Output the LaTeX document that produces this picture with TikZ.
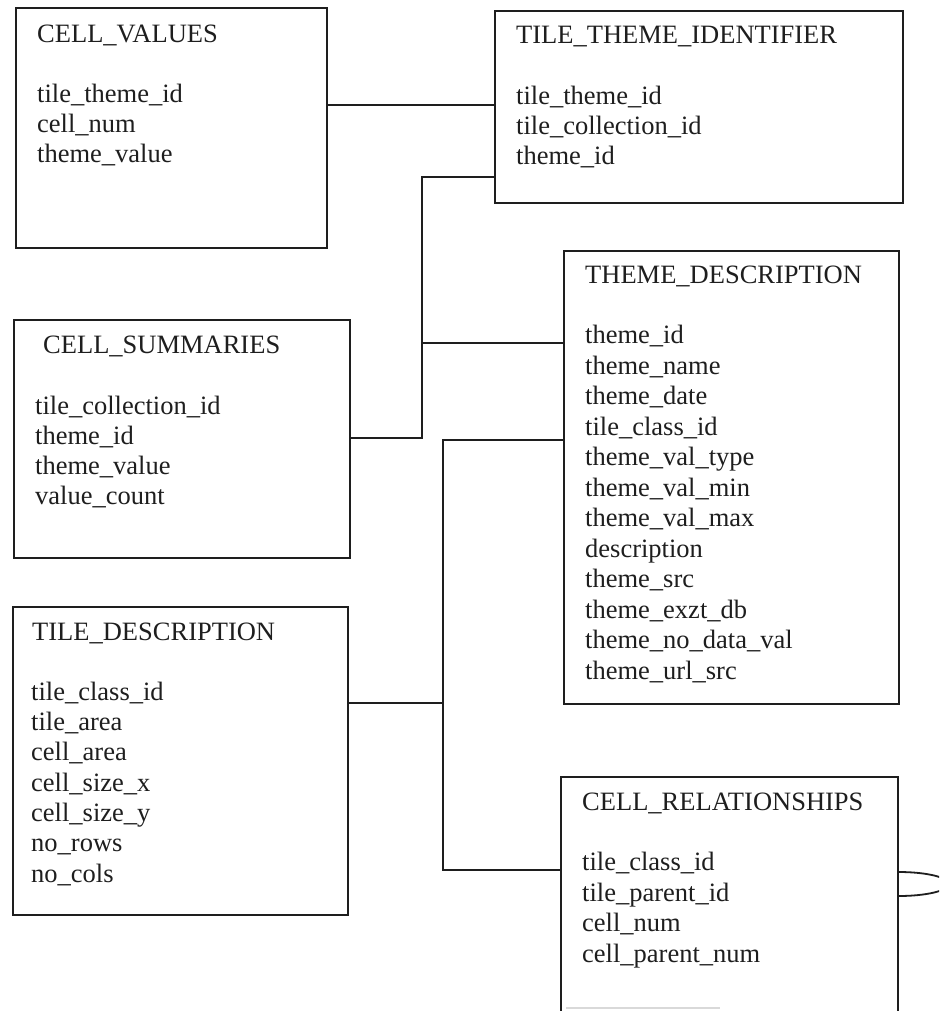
\documentclass[tikz,border=0pt]{standalone}
\usepackage{fontspec}
\setmainfont{Liberation Serif}
\definecolor{ink}{HTML}{1E1E1E}
\begin{document}
\begin{tikzpicture}[x=1pt,y=-1pt,
  tbl/.style={draw=ink, line width=1.8pt, rectangle, inner sep=0pt, anchor=north west},
  conn/.style={draw=ink, line width=1.8pt},
  ttl/.style={anchor=base west, inner sep=0pt, text=ink, font=\fontsize{26.5}{30}\selectfont},
  fld/.style={anchor=base west, inner sep=0pt, text=ink, font=\fontsize{26.5}{30}\selectfont}]
\useasboundingbox (0,0) rectangle (939,1011);
\clip (0,0) rectangle (939,1011);
\fill[white] (0,0) rectangle (939,1011);

% tables
\node[tbl, minimum width=311pt, minimum height=240pt] (cv) at (15,7) {};
\node[tbl, minimum width=408pt, minimum height=192pt] (tti) at (494,10) {};
\node[tbl, minimum width=336pt, minimum height=238pt] (cs) at (13,319) {};
\node[tbl, minimum width=335pt, minimum height=453pt] (td) at (563,250) {};
\node[tbl, minimum width=335pt, minimum height=308pt] (tdesc) at (12,606) {};
\node[tbl, minimum width=337pt, minimum height=280pt] (cr) at (560,776) {};

% texts
\node[ttl] (cv-t) at (37,43) {CELL\_VALUES};
\foreach \s [count=\i] in {tile\_theme\_id, cell\_num, theme\_value}
  \node[fld] (cv-\i) at (37,{73+30*\i}) {\s};

\node[ttl] (tti-t) at (516,44) {TILE\_THEME\_IDENTIFIER};
\foreach \s [count=\i] in {tile\_theme\_id, tile\_collection\_id, theme\_id}
  \node[fld] (tti-\i) at (516,{75+30*\i}) {\s};

\node[ttl] (cs-t) at (43,353) {CELL\_SUMMARIES};
\foreach \s [count=\i] in {tile\_collection\_id, theme\_id, theme\_value, value\_count}
  \node[fld] (cs-\i) at (35,{384+30.1*\i}) {\s};

\node[ttl] (td-t) at (585,283) {THEME\_DESCRIPTION};
\foreach \s [count=\i] in {theme\_id, theme\_name, theme\_date, tile\_class\_id, theme\_val\_type, theme\_val\_min, theme\_val\_max, description, theme\_src, theme\_exzt\_db, theme\_no\_data\_val, theme\_url\_src}
  \node[fld] (td-\i) at (585,{313+30.5*\i}) {\s};

\node[ttl] (tdesc-t) at (32,640) {TILE\_DESCRIPTION};
\foreach \s [count=\i] in {tile\_class\_id, tile\_area, cell\_area, cell\_size\_x, cell\_size\_y, no\_rows, no\_cols}
  \node[fld] (tdesc-\i) at (31,{670+30.3*\i}) {\s};

\node[ttl] (cr-t) at (582,810) {CELL\_RELATIONSHIPS};
\foreach \s [count=\i] in {tile\_class\_id, tile\_parent\_id, cell\_num, cell\_parent\_num}
  \node[fld] (cr-\i) at (582,{840+30.5*\i}) {\s};

% junction points
\coordinate (c1) at (0,105);
\coordinate (a1) at (422,177);
\coordinate (a2) at (422,343);
\coordinate (a3) at (422,438);
\coordinate (b1) at (443,440);
\coordinate (b2) at (443,703);
\coordinate (b3) at (443,870);
\coordinate (d1) at (0,872);

% connectors
\draw[conn] (cv.east |- c1) -- (tti.west |- c1);
\draw[conn] (tti.west |- a1) -- (a1) -- (a3) -- (cs.east |- a3);
\draw[conn] (a2) -- (td.west |- a2);
\draw[conn] (td.west |- b1) -- (b1) -- (b3) -- (cr.west |- b3);
\draw[conn] (tdesc.east |- b2) -- (b2);
\draw[conn] (cr.east |- d1) arc[start angle=-90, end angle=90, x radius=50, y radius=12];

% faint scan trace at the bottom
\draw[gray!30, line width=1.2pt] (566,1008) -- (720,1008);
\end{tikzpicture}
\end{document}
